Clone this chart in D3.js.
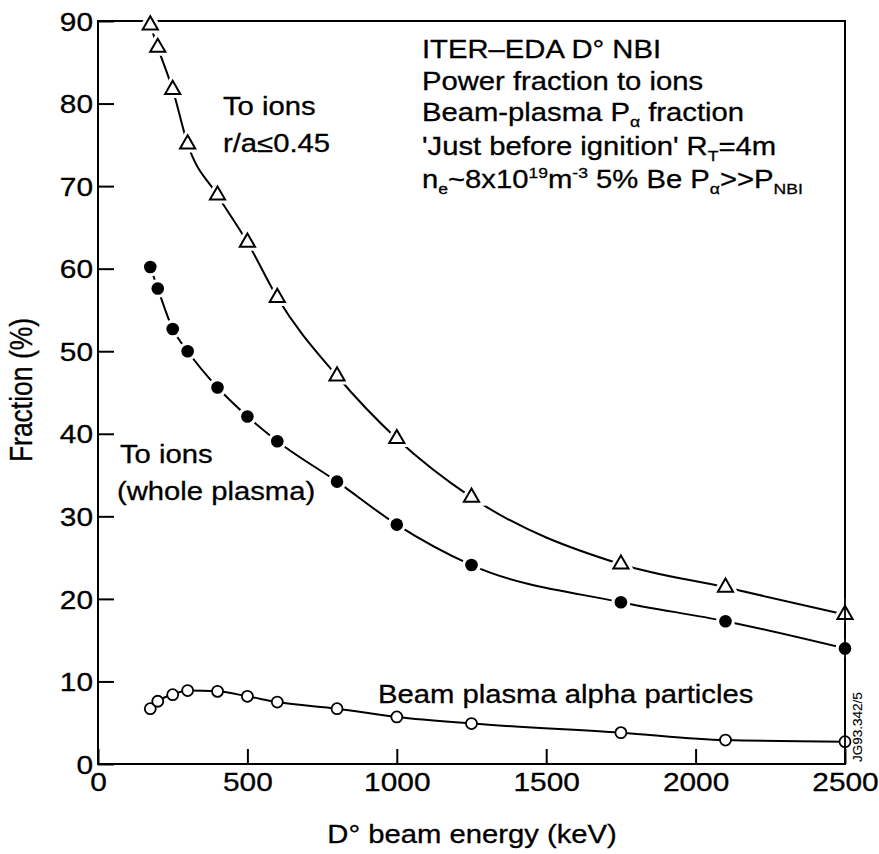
<!DOCTYPE html>
<html>
<head>
<meta charset="utf-8">
<script src="https://cdn.jsdelivr.net/npm/d3@7"></script>
<style>
  html, body { margin: 0; padding: 0; background: #fff; }
  svg { display: block; }
  text { font-family: "Liberation Sans", Arial, Helvetica, sans-serif; fill: #000; stroke: #000; stroke-width: 0.3; }
</style>
</head>
<body>
<svg id="chart" width="879" height="854"></svg>
<script>
// Beam energies (keV) at which the fractions were computed
const energies = [175, 200, 250, 300, 400, 500, 600, 800, 1000, 1250, 1750, 2100, 2500];
// Power fraction to ions inside r/a <= 0.45 (%)
const ionsCore = [89.5, 86.8, 81.7, 75.1, 68.9, 63.2, 56.5, 47.0, 39.4, 32.3, 24.2, 21.4, 18.1];
// Power fraction to ions, whole plasma (%)
const ionsWhole = [60.2, 57.6, 52.7, 50.0, 45.6, 42.1, 39.1, 34.2, 29.0, 24.1, 19.6, 17.3, 14.0];
// Beam-plasma alpha particle fraction (%)
const alphaFrac = [6.7, 7.6, 8.4, 8.9, 8.8, 8.2, 7.5, 6.7, 5.7, 4.9, 3.8, 2.9, 2.7];

const xTicks = [0, 500, 1000, 1500, 2000, 2500];
const yTicks = [0, 10, 20, 30, 40, 50, 60, 70, 80, 90];

const SX = 1.17; // horizontal stretch of the typeface

const svg = d3.select("#chart");
const x = d3.scaleLinear().domain([0, 2500]).range([98, 845]);
const y = d3.scaleLinear().domain([0, 90]).range([764, 21]);

// Stretched text helper: parts = [{t, sub, sup}]
function label(parent, px, py, parts, opts = {}) {
  const size = opts.size || 25;
  const g = parent.append("g")
    .attr("transform", `translate(${px},${py}) scale(${SX},1)`);
  const t = g.append("text")
    .attr("font-size", size)
    .attr("text-anchor", opts.anchor || "start");
  let shift = 0;
  parts.forEach(p => {
    const sp = t.append("tspan").text(p.t);
    let target = 0;
    if (p.sub) { target = size * 0.24; sp.attr("font-size", size * 0.6); }
    if (p.sup) { target = -size * 0.4; sp.attr("font-size", size * 0.6); }
    if (target !== shift) { sp.attr("dy", target - shift); shift = target; }
  });
  return t;
}

// Frame
svg.append("rect")
  .attr("x", x(0)).attr("y", y(90))
  .attr("width", x(2500) - x(0)).attr("height", y(0) - y(90))
  .attr("fill", "none").attr("stroke", "#000").attr("stroke-width", 2);

// Axes with inward ticks
const yAxis = svg.append("g")
  .attr("transform", `translate(${x(0)},0)`)
  .call(d3.axisLeft(y).tickValues(yTicks).tickSizeInner(-16).tickSizeOuter(0).tickFormat(d3.format("d")));
const xAxis = svg.append("g")
  .attr("transform", `translate(0,${y(0)})`)
  .call(d3.axisBottom(x).tickValues(xTicks).tickSizeInner(-15).tickSizeOuter(0).tickFormat(d3.format("d")));

[yAxis, xAxis].forEach(a => {
  a.select(".domain").remove();
  a.selectAll(".tick line").attr("stroke", "#000").attr("stroke-width", 2);
  a.selectAll(".tick text")
    .attr("font-family", "Liberation Sans, Arial, sans-serif")
    .attr("font-size", 25.5).attr("fill", "#000");
});
yAxis.selectAll(".tick text")
  .attr("x", -5 / SX).attr("dy", "0.36em")
  .attr("transform", `scale(${SX},1)`);
xAxis.selectAll(".tick text")
  .attr("y", 9).attr("dy", "0.71em")
  .attr("transform", `scale(${SX},1)`);

// Curves
const line = d3.line().x(d => x(d[0])).y(d => y(d[1])).curve(d3.curveMonotoneX);
const series = [
  { vals: ionsCore, mark: "tri" },
  { vals: ionsWhole, mark: "dot" },
  { vals: alphaFrac, mark: "ring" }
];
series.forEach(s => {
  const pts = energies.map((e, i) => [e, s.vals[i]]);
  svg.append("path").datum(pts)
    .attr("d", line)
    .attr("fill", "none").attr("stroke", "#000").attr("stroke-width", 2);
});

// Markers (with a white gap around triangles and dots)
const triPath = d3.symbol().type(d3.symbolTriangle).size(100)();
series.forEach(s => {
  const pts = energies.map((e, i) => [e, s.vals[i]]);
  const g = svg.append("g");
  pts.forEach(p => {
    const cx = x(p[0]), cy = y(p[1]);
    if (s.mark === "tri") {
      g.append("path").attr("d", triPath).attr("transform", `translate(${cx},${cy})`)
        .attr("fill", "#fff").attr("stroke", "#fff").attr("stroke-width", 8);
      g.append("path").attr("d", triPath).attr("transform", `translate(${cx},${cy})`)
        .attr("fill", "#fff").attr("stroke", "#000").attr("stroke-width", 2);
    } else if (s.mark === "dot") {
      g.append("circle").attr("cx", cx).attr("cy", cy).attr("r", 9.5).attr("fill", "#fff");
      g.append("circle").attr("cx", cx).attr("cy", cy).attr("r", 6.3).attr("fill", "#000");
    } else {
      g.append("circle").attr("cx", cx).attr("cy", cy).attr("r", 5.5)
        .attr("fill", "#fff").attr("stroke", "#000").attr("stroke-width", 1.8);
    }
  });
});

// Right edge of the frame over the markers at 2500 keV
svg.append("line")
  .attr("x1", x(2500)).attr("x2", x(2500)).attr("y1", y(90)).attr("y2", y(0))
  .attr("stroke", "#000").attr("stroke-width", 2).attr("stroke-opacity", 0.9);

// Axis titles
label(svg, 472, 843, [{ t: "D° beam energy (keV)" }], { anchor: "middle" });
svg.append("g")
  .attr("transform", `translate(32,390) scale(${SX},1) rotate(-90)`)
  .append("text").attr("font-size", 26.5).attr("text-anchor", "middle").text("Fraction (%)");

// Header block
const hx = 422;
label(svg, hx, 58, [{ t: "ITER–EDA D° NBI" }]);
label(svg, hx, 90, [{ t: "Power fraction to ions" }]);
label(svg, hx, 121, [{ t: "Beam-plasma P" }, { t: "α", sub: true }, { t: " fraction" }]);
label(svg, hx, 155, [{ t: "'Just before ignition' R" }, { t: "T", sub: true }, { t: "=4m" }]);
label(svg, hx, 188, [{ t: "n" }, { t: "e", sub: true }, { t: "~8x10" }, { t: "19", sup: true },
  { t: "m" }, { t: "-3", sup: true }, { t: " 5% Be P" }, { t: "α", sub: true }, { t: ">>P" }, { t: "NBI", sub: true }]);

// Curve labels
label(svg, 223, 115, [{ t: "To ions" }]);
label(svg, 223, 152, [{ t: "r/a≤0.45" }]);
label(svg, 120, 463, [{ t: "To ions" }]);
label(svg, 117, 500, [{ t: "(whole plasma)" }]);
label(svg, 378, 703, [{ t: "Beam plasma alpha particles" }]);

// Figure reference
svg.append("text")
  .attr("transform", "translate(862,762) rotate(-90)")
  .attr("font-size", 13.5).style("stroke-width", 0.15).text("JG93.342/5");
</script>
</body>
</html>
